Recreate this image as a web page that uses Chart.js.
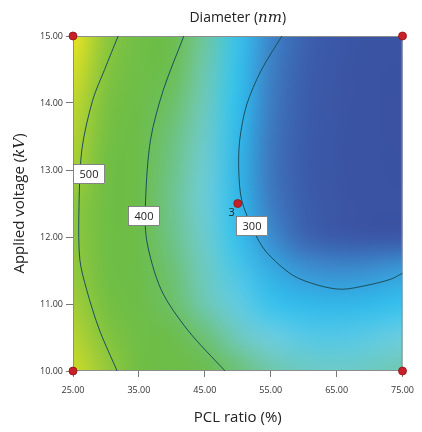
<!DOCTYPE html>
<html>
<head>
<meta charset="utf-8">
<script src="https://cdn.jsdelivr.net/npm/chart.js@4.4.1/dist/chart.umd.min.js"></script>
<style>
body{margin:0;background:#fff;}
#wrap{width:422px;height:432px;}
</style>
</head>
<body>
<div id="wrap"><canvas id="c" width="422" height="432"></canvas></div>
<script>
// PCL ratio (%) columns and applied voltage (kV) rows of the response surface
const gridX = [25, 30, 35, 40, 45, 50, 55, 60, 65, 70, 75];
const gridY = [15, 14.5, 14, 13.5, 13, 12.5, 12, 11.5, 11, 10.5, 10];
const diameter = [
  [600, 510, 455, 415, 380, 320, 285, 260, 246, 240, 237],
  [580, 500, 450, 408, 372, 318, 282, 258, 244, 238, 236],
  [560, 490, 440, 400, 365, 315, 280, 256, 243, 237, 235],
  [545, 485, 432, 392, 358, 312, 278, 255, 242, 237, 235],
  [535, 480, 428, 388, 352, 310, 277, 254, 241, 237, 236],
  [510, 470, 425, 385, 350, 312, 280, 257, 243, 238, 238],
  [510, 470, 425, 388, 355, 318, 288, 263, 249, 244, 244],
  [515, 475, 432, 395, 362, 328, 305, 292, 288, 290, 296],
  [530, 485, 440, 400, 370, 340, 320, 312, 310, 312, 318],
  [550, 500, 455, 420, 395, 365, 345, 335, 333, 337, 345],
  [570, 520, 470, 435, 412, 395, 375, 362, 358, 362, 372]
];

const xTicks = [25, 35, 45, 55, 65, 75];
const yTicks = [10, 11, 12, 13, 14, 15];

// contour lines
const contour500 = [{x:31.85,y:15},{x:29.8,y:14.5},{x:27.98,y:14.04},{x:26.34,y:13.3},{x:25.89,y:12.33},{x:26.04,y:11.66},{x:27.08,y:11.21},{x:29.02,y:10.61},{x:31.7,y:10}];
const contour400 = [{x:41.82,y:15},{x:38.69,y:14.19},{x:36.76,y:13.45},{x:36.01,y:12.55},{x:36.16,y:11.96},{x:38.39,y:11.21},{x:42.41,y:10.61},{x:48.07,y:10}];
const contour300 = [{x:56.7,y:15},{x:53.57,y:14.49},{x:51.34,y:13.97},{x:50.3,y:13.45},{x:50.15,y:13},{x:50.6,y:12.55},{x:52.38,y:12.1},{x:54.3,y:11.78},{x:58.33,y:11.43},{x:62.2,y:11.28},{x:65.77,y:11.22},{x:69.64,y:11.28},{x:73.21,y:11.37},{x:75,y:11.46}];

const contourLabels = [
  {x:27.4, y:12.94, text:'500'},
  {x:35.7, y:12.31, text:'400'},
  {x:52.2, y:12.16, text:'300'}
];

const designPoints = [{x:25,y:15},{x:75,y:15},{x:25,y:10},{x:75,y:10},{x:50,y:12.5}];
const centerLabel = '3';

// colour ramp for the shading
const ramp = [
  [230,'#3a4f9f'],[255,'#3b5cab'],[275,'#3e72ba'],[295,'#3a9ad8'],[315,'#2fc0ee'],
  [345,'#6dcde0'],[375,'#6ec7aa'],[410,'#6cbd4c'],[480,'#70be44'],[530,'#a2cd38'],[600,'#ece51e']
];

function hex(h){ return [parseInt(h.substr(1,2),16),parseInt(h.substr(3,2),16),parseInt(h.substr(5,2),16)]; }

function colorFor(v){
  if(v<=ramp[0][0]) return hex(ramp[0][1]);
  for(var i=1;i<ramp.length;i++){
    if(v<=ramp[i][0]){
      var a=hex(ramp[i-1][1]), b=hex(ramp[i][1]);
      var t=(v-ramp[i-1][0])/(ramp[i][0]-ramp[i-1][0]);
      return [a[0]+(b[0]-a[0])*t, a[1]+(b[1]-a[1])*t, a[2]+(b[2]-a[2])*t];
    }
  }
  return hex(ramp[ramp.length-1][1]);
}

const surface = {
  id:'surface',
  beforeDatasetsDraw(chart){
    var ctx=chart.ctx, a=chart.chartArea, sx=chart.scales.x, sy=chart.scales.y;
    var nx=gridX.length, ny=gridY.length;
    var off=document.createElement('canvas');
    off.width=nx; off.height=ny;
    var octx=off.getContext('2d');
    var img=octx.createImageData(nx,ny);
    diameter.forEach((row,j)=>{
      row.forEach((v,i)=>{
        var c=colorFor(v), k=(j*nx+i)*4;
        img.data[k]=c[0]; img.data[k+1]=c[1]; img.data[k+2]=c[2]; img.data[k+3]=255;
      });
    });
    octx.putImageData(img,0,0);
    var x0=sx.getPixelForValue(gridX[0]), x1=sx.getPixelForValue(gridX[nx-1]);
    var y0=sy.getPixelForValue(gridY[0]), y1=sy.getPixelForValue(gridY[ny-1]);
    var cw=(x1-x0)/(nx-1), ch=(y1-y0)/(ny-1);
    ctx.save();
    ctx.beginPath(); ctx.rect(a.left,a.top,a.width,a.height); ctx.clip();
    ctx.imageSmoothingEnabled=true;
    ctx.imageSmoothingQuality='high';
    ctx.drawImage(off, x0-cw/2, y0-ch/2, cw*nx, ch*ny);
    ctx.restore();
    ctx.save();
    ctx.strokeStyle='#8c8c8c'; ctx.lineWidth=1;
    ctx.strokeRect(a.left+0.5,a.top+0.5,a.width-1,a.height-1);
    ctx.restore();
  },
  afterDatasetsDraw(chart){
    var ctx=chart.ctx, sx=chart.scales.x, sy=chart.scales.y;
    ctx.save();
    ctx.font='11px "Open Sans"';
    ctx.textAlign='center'; ctx.textBaseline='middle';
    contourLabels.forEach(l=>{
      var px=Math.round(sx.getPixelForValue(l.x)), py=Math.round(sy.getPixelForValue(l.y));
      ctx.fillStyle='#fff';
      ctx.fillRect(px-16,py-10,32,20);
      ctx.strokeStyle='#666'; ctx.lineWidth=0.8;
      ctx.strokeRect(px-15.5,py-9.5,31,19);
      ctx.fillStyle='#222';
      ctx.fillText(l.text,px,py+1);
    });
    var c=designPoints[designPoints.length-1];
    ctx.textAlign='right';
    ctx.fillText(centerLabel, sx.getPixelForValue(c.x)-3, sy.getPixelForValue(c.y)+9);
    ctx.restore();
  },
  afterDraw(chart){
    var ctx=chart.ctx, a=chart.chartArea;
    ctx.save();
    ctx.fillStyle='#222';
    ctx.textBaseline='middle';
    function mixed(parts, cx, cy){
      var w=0;
      parts.forEach(p=>{ ctx.font=p[1]; w+=ctx.measureText(p[0]).width; });
      var x=cx-w/2;
      ctx.textAlign='left';
      parts.forEach(p=>{ ctx.font=p[1]; ctx.fillText(p[0],x,cy); x+=ctx.measureText(p[0]).width; });
    }
    var sans='14px "Open Sans"', ital='italic 15px "DejaVu Serif"';
    mixed([['Diameter (',sans],['nm',ital],[')',sans]], (a.left+a.right)/2, 18);
    mixed([['PCL ratio (%)','15px "Open Sans"']], (a.left+a.right)/2, 418);
    ctx.translate(20,(a.top+a.bottom)/2);
    ctx.rotate(-Math.PI/2);
    mixed([['Applied voltage (','15px "Open Sans"'],['kV',ital],[')','15px "Open Sans"']], 0, 0);
    ctx.restore();
  }
};

function contourSet(data){
  return {type:'scatter', data:data, showLine:true, pointRadius:0, borderColor:'#1b4f5c', borderWidth:1, tension:0.3, fill:false};
}

new Chart(document.getElementById('c'), {
  type:'scatter',
  data:{
    datasets:[
      contourSet(contour500),
      contourSet(contour400),
      contourSet(contour300),
      {type:'scatter', data:designPoints, pointRadius:4, pointHoverRadius:4, backgroundColor:'#c8202a', borderColor:'#8a1414', borderWidth:0.8, clip:false}
    ]
  },
  options:{
    responsive:false,
    animation:false,
    devicePixelRatio:1,
    layout:{padding:{left:0, top:36, right:13, bottom:0}},
    plugins:{legend:{display:false}, tooltip:{enabled:false}, title:{display:false}},
    scales:{
      x:{
        type:'linear', min:25, max:75,
        afterBuildTicks(s){ s.ticks = xTicks.map(v=>({value:v})); },
        afterFit(s){ s.height = 61; },
        grid:{drawOnChartArea:false, drawTicks:true, tickLength:6, color:'#777'},
        border:{display:false},
        ticks:{padding:8, color:'#333', font:{family:'Open Sans', size:9}, callback:v=>Number(v).toFixed(2), maxRotation:0}
      },
      y:{
        type:'linear', min:10, max:15,
        afterBuildTicks(s){ s.ticks = yTicks.map(v=>({value:v})); },
        afterFit(s){ s.width = 73; },
        grid:{drawOnChartArea:false, drawTicks:true, tickLength:7, color:'#777'},
        border:{display:false},
        ticks:{padding:3, color:'#333', font:{family:'Open Sans', size:9}, callback:v=>Number(v).toFixed(2)}
      }
    }
  },
  plugins:[surface]
});
</script>
</body>
</html>
